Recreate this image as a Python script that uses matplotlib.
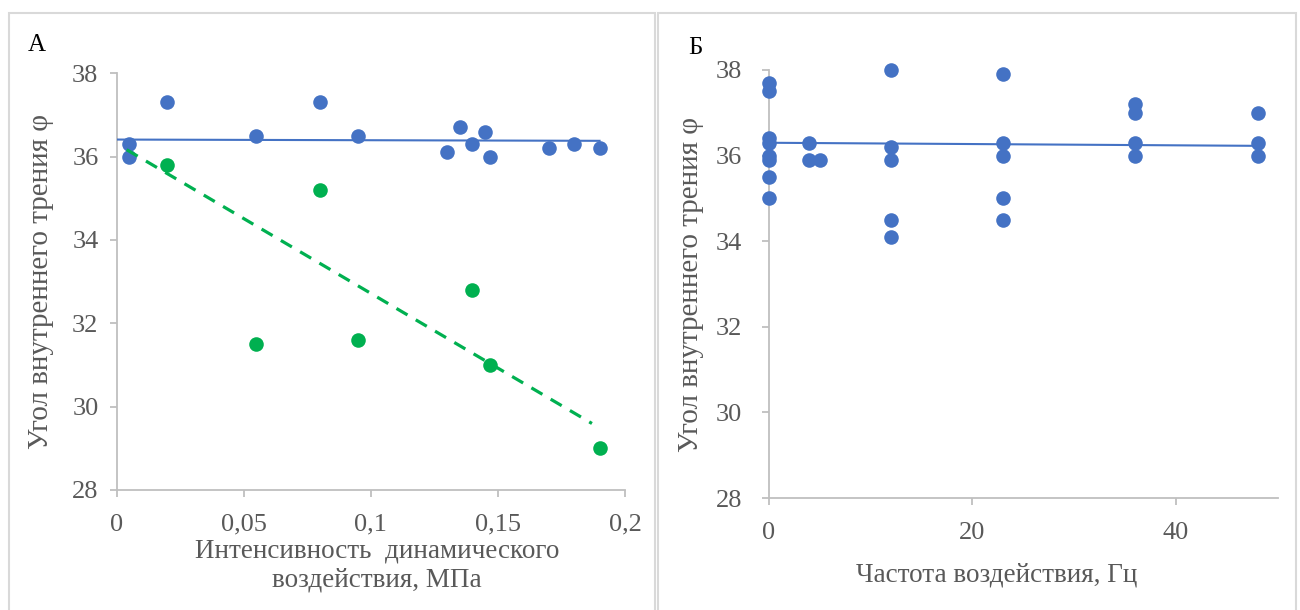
import matplotlib
matplotlib.use("Agg")
import matplotlib.pyplot as plt
import numpy as np
from matplotlib.patches import Rectangle
from matplotlib.ticker import FuncFormatter

plt.rcParams['font.family'] = ['Liberation Serif', 'DejaVu Serif']

# Panel A: intensity of dynamic action, MPa
a_blue_x = [0.005, 0.005, 0.02, 0.055, 0.08, 0.095, 0.13, 0.135, 0.14, 0.145, 0.147, 0.17, 0.18, 0.19]
a_blue_y = [36.3, 36.0, 37.3, 36.5, 37.3, 36.5, 36.1, 36.7, 36.3, 36.6, 36.0, 36.2, 36.3, 36.2]
a_green_x = [0.02, 0.055, 0.08, 0.095, 0.14, 0.147, 0.19]
a_green_y = [35.8, 31.5, 35.2, 31.6, 32.8, 31.0, 29.0]
# trend lines: (intercept, slope, x range)
a_blue_trend = (36.41, -0.16, (0.0, 0.19))
a_green_trend = (36.31, -35.9, (0.004, 0.187))

# Panel B: frequency, Hz
b_x = [0, 0, 0, 0, 0, 0, 0, 0,
       4, 4, 5,
       12, 12, 12, 12, 12,
       23, 23, 23, 23, 23,
       36, 36, 36, 36,
       48, 48, 48]
b_y = [37.7, 37.5, 36.4, 36.3, 36.0, 35.9, 35.5, 35.0,
       36.3, 35.9, 35.9,
       38.0, 36.2, 35.9, 34.5, 34.1,
       37.9, 36.3, 36.0, 35.0, 34.5,
       37.2, 37.0, 36.3, 36.0,
       37.0, 36.3, 36.0]
b_trend = (36.30, -0.0015, (0, 48))

blue = '#4472C4'
green = '#00B050'
grey_txt = '#595959'
grey_ax = '#BFBFBF'

fig = plt.figure(figsize=(13, 6.1), dpi=100)

# panel frames
fig.patches.append(Rectangle((9 / 1300, -0.1), 646 / 1300, 1 - 13.5 / 610 + 0.1,
                             transform=fig.transFigure, fill=False, edgecolor='#D9D9D9', lw=1.5))
fig.patches.append(Rectangle((658 / 1300, -0.1), 638 / 1300, 1 - 13.5 / 610 + 0.1,
                             transform=fig.transFigure, fill=False, edgecolor='#D9D9D9', lw=1.5))

axA = fig.add_axes([116.5 / 1300, 1 - 490 / 610, 508.5 / 1300, 416.7 / 610])
axB = fig.add_axes([768.6 / 1300, 1 - 498 / 610, 509.4 / 1300, 428 / 610])


def comma(v, pos):
    s = ('%.2f' % v).rstrip('0').rstrip('.')
    return s.replace('.', ',')


def trend(ax, t, color, ls, lw):
    b0, b1, (x0, x1) = t
    xs = np.array([x0, x1])
    ax.plot(xs, b0 + b1 * xs, color=color, ls=ls, lw=lw, zorder=4,
            dashes=(4, 3) if ls == '--' else (None, None))


for ax in (axA, axB):
    for s in ('top', 'right'):
        ax.spines[s].set_visible(False)
    for s in ('left', 'bottom'):
        ax.spines[s].set_color(grey_ax)
        ax.spines[s].set_linewidth(1.3)
    ax.tick_params(direction='out', length=5, width=1.3, color=grey_ax,
                   labelcolor=grey_txt, labelsize=19)
    ax.set_ylim(28, 38)
    ax.set_yticks([28, 30, 32, 34, 36, 38])
    ax.set_ylabel('Угол внутреннего трения φ', fontsize=21, color=grey_txt)
    ax.patch.set_alpha(0)

axA.scatter(a_blue_x, a_blue_y, s=110, color=blue, zorder=3, linewidths=0)
axA.scatter(a_green_x, a_green_y, s=110, color=green, zorder=3, linewidths=0)
trend(axA, a_blue_trend, blue, '-', 1.5)
trend(axA, a_green_trend, green, '--', 2.3)
axA.set_xlim(0, 0.2)
axA.set_xticks([0, 0.05, 0.1, 0.15, 0.2])
axA.xaxis.set_major_formatter(FuncFormatter(comma))
axA.tick_params(axis='x', pad=12)
axA.tick_params(axis='y', pad=8)
axA.set_xlabel('Интенсивность  динамического\nвоздействия, МПа', fontsize=19.5,
               color=grey_txt, linespacing=1.2)
axA.xaxis.set_label_coords(0.512, -0.116)
axA.yaxis.set_label_coords(-0.122, 0.5)

axB.scatter(b_x, b_y, s=110, color=blue, zorder=3, linewidths=0)
trend(axB, b_trend, blue, '-', 1.5)
axB.set_xlim(0, 50)
axB.set_xticks([0, 20, 40])
axB.tick_params(axis='x', pad=12)
axB.tick_params(axis='y', pad=14)
axB.set_xlabel('Частота воздействия, Гц', fontsize=19.5, color=grey_txt)
axB.xaxis.set_label_coords(0.448, -0.15)
axB.yaxis.set_label_coords(-0.127, 0.5)

for ax in (axA, axB):
    for c in ax.collections:
        c.set_clip_on(False)

fig.text(37 / 1300, 1 - 45 / 610, 'А', fontsize=18, color='black', va='center', ha='center')
fig.text(695 / 1300, 1 - 48 / 610, 'Б', fontsize=18, color='black', va='center', ha='center')

fig.savefig('out.png', dpi=100)
